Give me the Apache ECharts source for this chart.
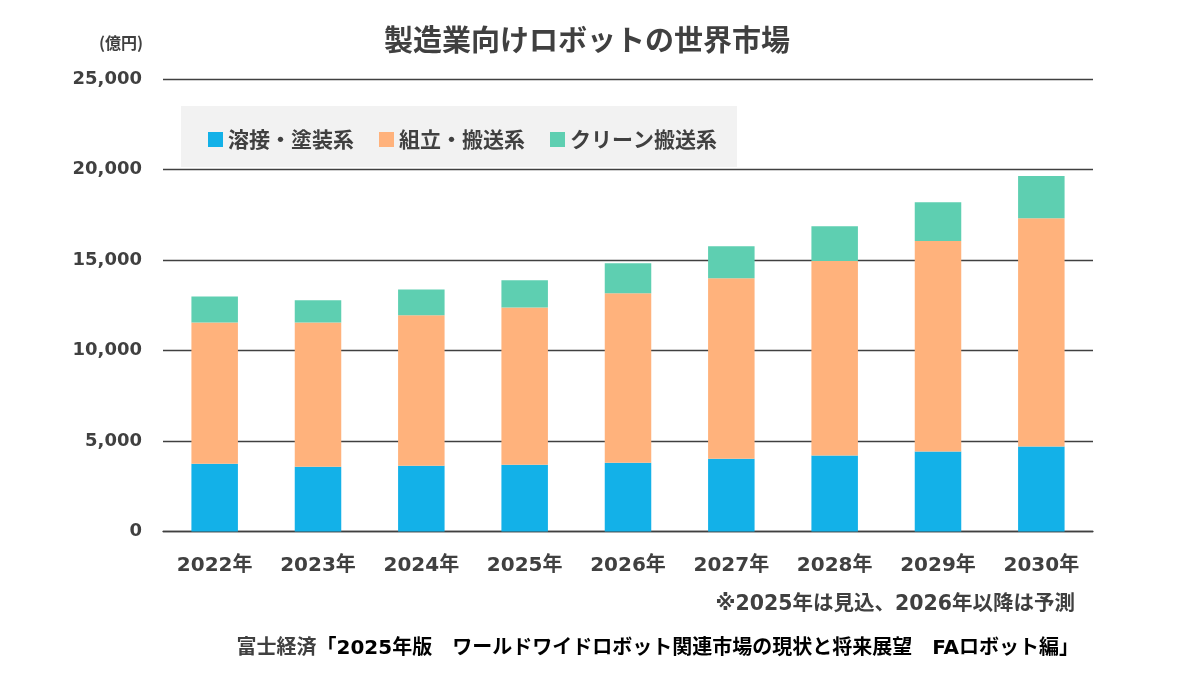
<!DOCTYPE html>
<html>
<head>
<meta charset="utf-8">
<script src="https://cdn.jsdelivr.net/npm/echarts@6/dist/echarts.min.js"></script>
<style>html,body{margin:0;padding:0;background:#fff;}#c{width:1200px;height:675px;}</style>
</head>
<body>
<div id="c"></div>
<script>
const categories = ['2022年','2023年','2024年','2025年','2026年','2027年','2028年','2029年','2030年'];
const welding = [3740, 3580, 3630, 3690, 3800, 4020, 4200, 4420, 4700];
const assembly = [7810, 7970, 8320, 8690, 9360, 9970, 10740, 11630, 12610];
const clean = [1440, 1220, 1420, 1500, 1660, 1770, 1920, 2140, 2330];
const seriesNames = ['溶接・塗装系', '組立・搬送系', 'クリーン搬送系'];
const yTicks = [0, 5000, 10000, 15000, 20000, 25000];

const cjk = '"Noto Sans CJK JP", "Noto Sans", sans-serif';
const mix = '"DejaVu Sans", "Noto Sans CJK JP", sans-serif';
const txt = '#404040';
const chart = echarts.init(document.getElementById('c'));
const colors = ['#13B1E8', '#FFB27C', '#5ECFB1'];
const dataSets = [welding, assembly, clean];

chart.setOption({
  animation: false,
  backgroundColor: '#ffffff',
  color: colors,
  title: {
    text: '製造業向けロボットの世界市場',
    left: 379, top: 20,
    textStyle: { fontFamily: cjk, fontSize: 29, fontWeight: 'bold', color: txt }
  },
  graphic: [
    { type: 'rect', left: 181, top: 106, shape: { width: 556, height: 61 }, style: { fill: '#F2F2F2' }, z: 0 },
    { type: 'text', left: 99, top: 35, style: { text: '(億円)', fontFamily: cjk, fontSize: 16, fontWeight: 'bold', fill: txt } },
    { type: 'text', right: 125, top: 594, style: { text: '※2025年は見込、2026年以降は予測', fontFamily: mix, fontSize: 20.5, fontWeight: 'bold', fill: txt } },
    { type: 'text', right: 121, top: 639, style: {
        text: '{g|富士経済}{b|「2025年版　ワールドワイドロボット関連市場の現状と将来展望　FAロボット編」}',
        rich: {
          g: { fontFamily: mix, fontSize: 20, fontWeight: 'bold', fill: txt, color: txt, lineHeight: 26, verticalAlign: 'middle' },
          b: { fontFamily: mix, fontSize: 20, fontWeight: 'bold', fill: '#000', color: '#000', lineHeight: 26, verticalAlign: 'middle' }
        }
      } }
  ],
  legend: {
    left: 203, top: 124,
    itemWidth: 15, itemHeight: 15, itemGap: 25,
    icon: 'rect',
    textStyle: { fontFamily: cjk, fontSize: 21, fontWeight: 'bold', color: txt },
    data: seriesNames
  },
  grid: { left: 163, right: 107, top: 79, bottom: 143.5, containLabel: false },
  xAxis: {
    type: 'category',
    data: categories,
    axisLine: { lineStyle: { color: txt, width: 1.3 } },
    axisTick: { show: false },
    axisLabel: { margin: 24, fontFamily: mix, fontSize: 20, fontWeight: 'bold', color: txt }
  },
  yAxis: {
    type: 'value',
    min: yTicks[0], max: yTicks[yTicks.length - 1], interval: 5000,
    axisLine: { show: false },
    axisTick: { show: false },
    splitLine: { lineStyle: { color: txt, width: 1.3 } },
    axisLabel: {
      margin: 21, fontFamily: '"DejaVu Sans", sans-serif', fontSize: 18, fontWeight: 'bold', color: txt,
      formatter: v => v.toLocaleString('en-US')
    }
  },
  series: seriesNames.map((n, i) => ({
    name: n, type: 'bar', stack: 'total', barWidth: '45%',
    data: dataSets[i], itemStyle: { color: colors[i] }
  }))
});
</script>
</body>
</html>
